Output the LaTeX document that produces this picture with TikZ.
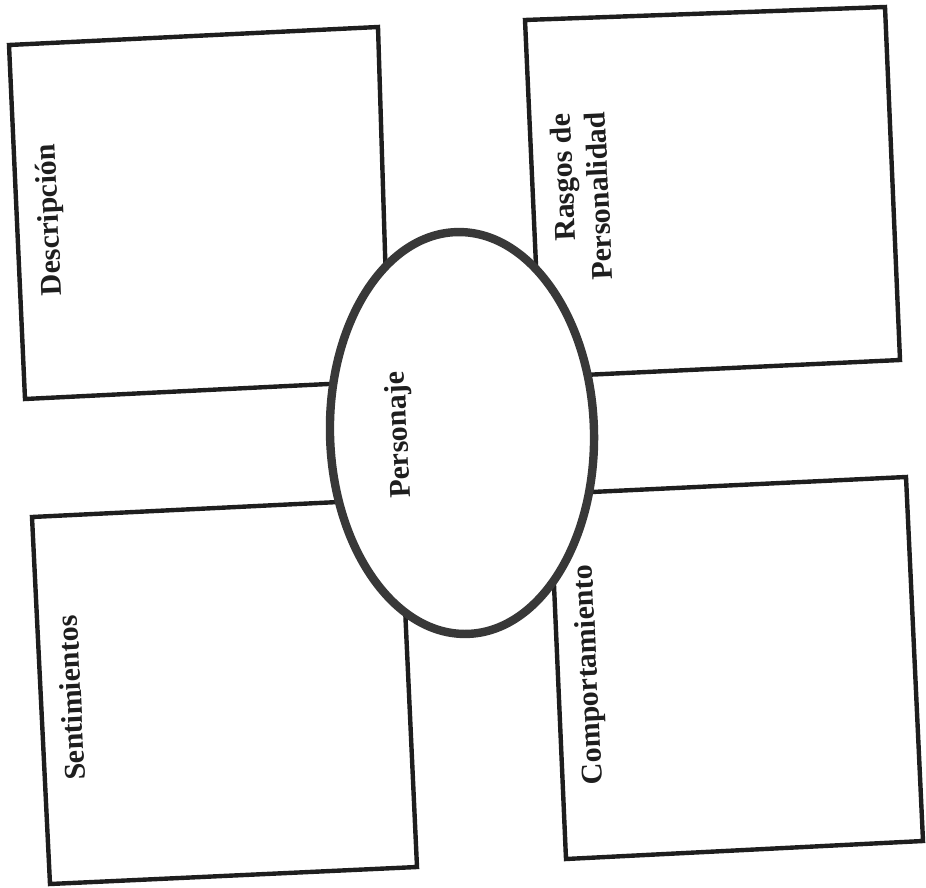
\documentclass[tikz,border=0pt]{standalone}
\usepackage{fontspec}
\setmainfont{Liberation Serif}
\usetikzlibrary{shapes.geometric}
\definecolor{orgInk}{HTML}{1E1E1E}
\definecolor{orgRing}{HTML}{383838}

\begin{document}
\begin{tikzpicture}[x=0.5pt, y=-0.5pt,
  boxline/.style={draw=orgInk, line width=2.2pt, line join=miter},
  ring/.style={ellipse, draw=orgRing, line width=4.2pt, fill=white, inner sep=0pt},
  tag/.style={font=\fontsize{15}{17.5}\selectfont\bfseries, text=orgInk,
    inner sep=0pt, rotate=92.7}]

\useasboundingbox (0,0) rectangle (926,888);

% --- BOXES (corners as scanned, slightly skewed) ---
\draw[boxline] (9,45) -- (378,27) -- (389,381) -- (25,399) -- cycle;     % Descripcion
\draw[boxline] (525,20) -- (885,7) -- (900,360) -- (541,377) -- cycle;   % Rasgos
\draw[boxline] (32,517) -- (400,499) -- (417,867) -- (50,884) -- cycle;  % Sentimientos
\draw[boxline] (550,494) -- (906,477) -- (923,841) -- (566,859) -- cycle; % Comportamiento

% --- CENTRE ELLIPSE (covers the inner corners) ---
\node[ring, rotate=91.5, minimum width=201pt, minimum height=132pt]
  (pers) at (462,433) {};

% --- LABELS ---
\node[tag] (perslab) at (400,435) {Personaje};
\node[tag] (desc) at (51,220) {Descripción};
\node[tag, align=right] (rasgos) at (581,197) {Rasgos de\\Personalidad};
\node[tag] (sent) at (71,698) {Sentimientos};
\node[tag] (comp) at (590,675) {Comportamiento};

\end{tikzpicture}
\end{document}
